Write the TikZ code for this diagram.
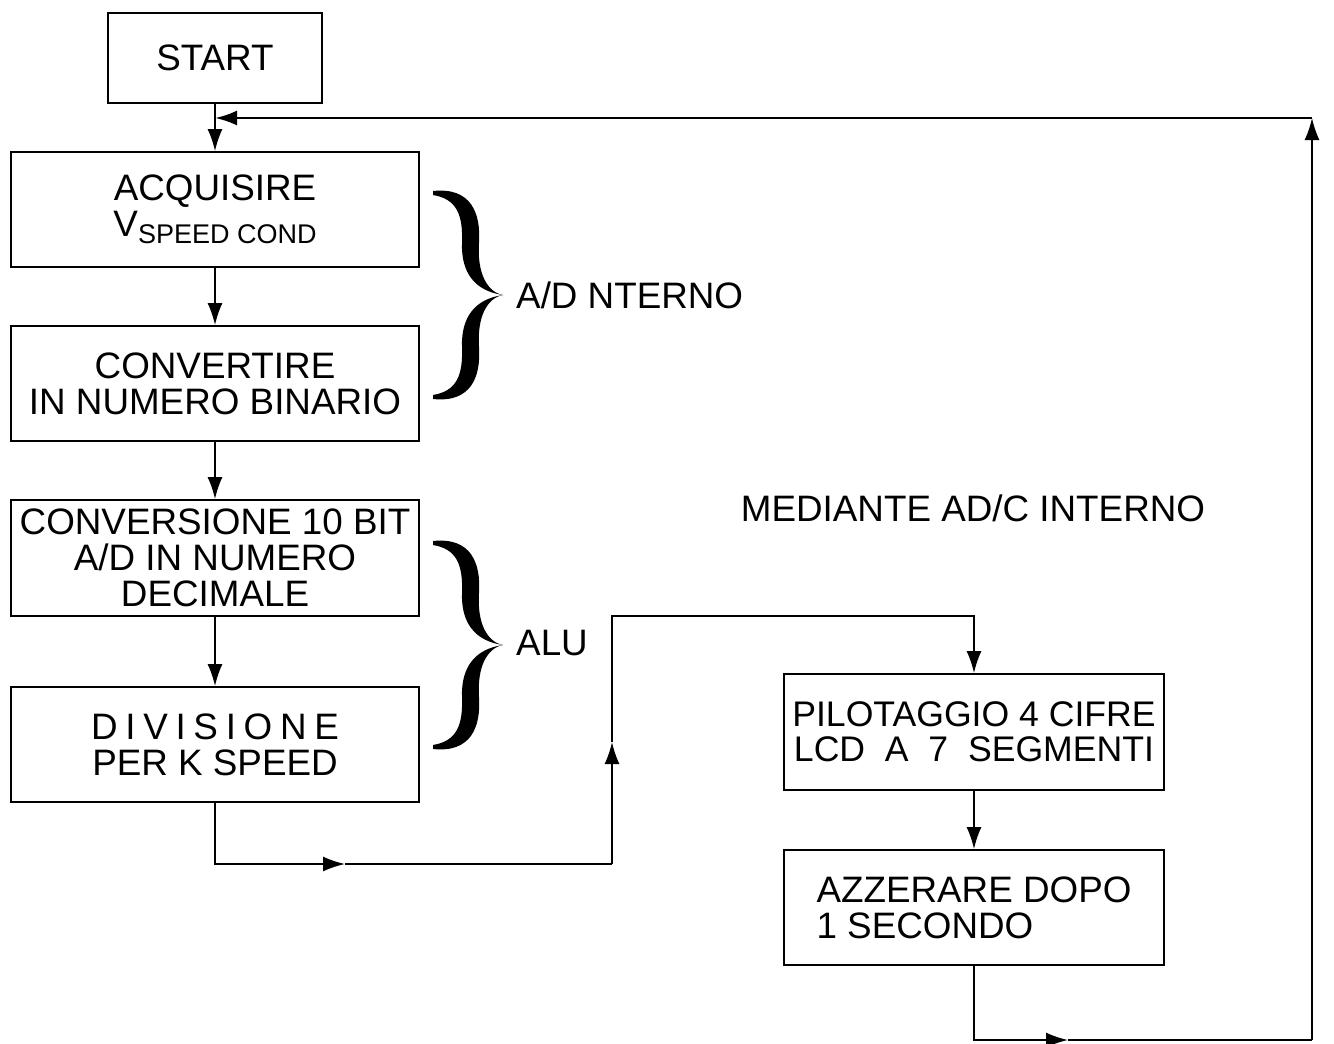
\documentclass[tikz,border=0pt]{standalone}
\usepackage{fontspec}
\setmainfont{Liberation Sans}
\usetikzlibrary{arrows.meta}
\newcommand\lsp{\hspace{7.7pt}}
\tikzset{
  box/.style={draw, line width=1.8pt, rectangle, inner sep=0pt, align=center,
    font=\fontsize{36.8}{36}\selectfont},
  boxl/.style={box, align=left},
  arr/.style={line width=1.8pt, -{Latex[length=22pt,width=15pt]}},
  ln/.style={line width=1.8pt},
  lbl/.style={anchor=west, inner sep=0pt, font=\fontsize{36.8}{36}\selectfont},
  curly/.pic={
    \fill (-70,-104) .. controls (-32,-108) and (-22,-82) .. (-24,-52)
      .. controls (-26,-22) and (-16,-3) .. (0,0)
      .. controls (-28,-4) and (-42,-22) .. (-41,-52)
      .. controls (-40,-80) and (-46,-96) .. (-70,-100) -- cycle;
    \fill (-70,104) .. controls (-32,108) and (-22,82) .. (-24,52)
      .. controls (-26,22) and (-16,3) .. (0,0)
      .. controls (-28,4) and (-42,22) .. (-41,52)
      .. controls (-40,80) and (-46,96) .. (-70,100) -- cycle;
  }
}
\begin{document}
\begin{tikzpicture}[x=1pt,y=-1pt]
\useasboundingbox (0,0) rectangle (1334,1044);
\fill[white] (0,0) rectangle (1334,1044);

\node[box, minimum width=214pt, minimum height=90pt] (start) at (215,58) {START};
\node[box, minimum width=408pt, minimum height=115pt] (b1) at (215,209.5)
  {ACQUISIRE\\V\raisebox{-0.35ex}{\fontsize{27}{27}\selectfont SPEED COND}};
\node[box, minimum width=408pt, minimum height=115pt] (b2) at (215,383.5)
  {CONVERTIRE\\IN NUMERO BINARIO};
\node[box, minimum width=408pt, minimum height=116pt] (b3) at (215,558)
  {CONVERSIONE 10 BIT\\A/D IN NUMERO\\DECIMALE};
\node[box, minimum width=408pt, minimum height=115pt] (b4) at (215,744.5)
  {D\lsp I\lsp V\lsp I\lsp S\lsp I\lsp O\lsp N\lsp E\\PER K SPEED};
\node[box, minimum width=380pt, minimum height=116pt, font=\fontsize{35.6}{35}\selectfont] (b5) at (974,732)
  {PILOTAGGIO 4 CIFRE\\LCD\ \ A\ \ 7\ \ SEGMENTI};
\node[boxl, minimum width=380pt, minimum height=115pt] (b6) at (974,907.5)
  {AZZERARE DOPO\\1 SECONDO};

\pic at (503,295) {curly};
\pic at (503,645) {curly};
\node[lbl] (l1) at (516,295) {A/D NTERNO};
\node[lbl] (l2) at (516,643) {ALU};
\node[lbl, anchor=center] (l3) at (973,508) {MEDIANTE AD/C INTERNO};

% main chain
\draw[arr] (start.south) -- (b1.north);
\draw[arr] (b1.south) -- (b2.north);
\draw[arr] (b2.south) -- (b3.north);
\draw[arr] (b3.south) -- (b4.north);

% bottom connector to b5
\coordinate (pm) at (345,864);
\coordinate (p2) at (612,864);
\coordinate (p3) at (612,742);
\coordinate (p4) at (612,616);
\draw[arr] (b4.south) |- (pm);
\draw[ln] (pm) -- (p2);
\draw[arr] (p2) -- (p3);
\draw[arr] (p3) -- (p4) -| (b5.north);
\draw[arr] (b5.south) -- (b6.north);

% feedback loop
\coordinate (qm) at (1068,1040);
\coordinate (q2) at (1312,1040);
\coordinate (q3) at (1312,118);
\coordinate (fb) at (215,118);
\draw[arr] (b6.south) |- (qm);
\draw[ln] (qm) -- (q2);
\draw[arr] (q2) -- (q3);
\draw[arr, line width=2.6pt] (q3) -- (fb);
\end{tikzpicture}
\end{document}
